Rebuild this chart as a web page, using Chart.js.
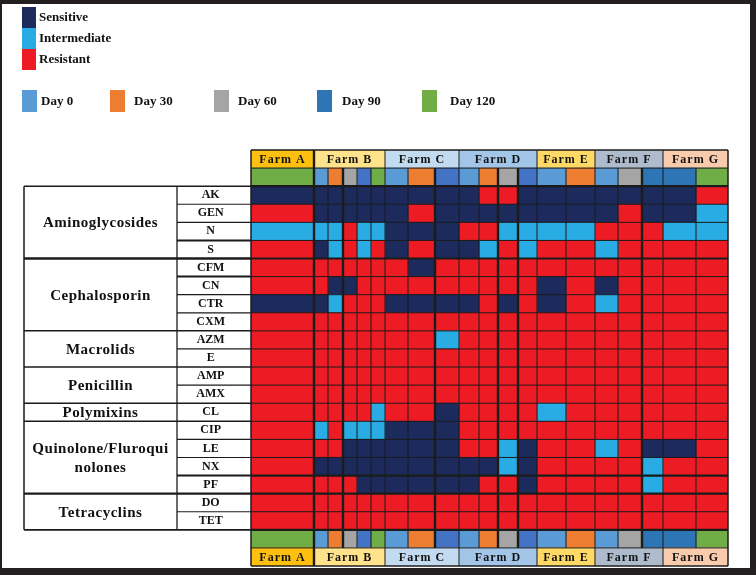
<!DOCTYPE html>
<html><head><meta charset="utf-8">
<script src="https://cdn.jsdelivr.net/npm/chart.js@4.4.1/dist/chart.umd.min.js"></script>
<style>
html,body{margin:0;padding:0;background:#fff;}
#wrap{position:relative;width:756px;height:575px;overflow:hidden;}
#frame{position:absolute;left:0;top:0;width:756px;height:575px;box-sizing:border-box;border-style:solid;border-color:#231f20;border-width:4px 6px 7px 2px;pointer-events:none;}
canvas{position:absolute;left:0;top:0;}
</style></head><body>
<div id="wrap"><canvas id="c" width="756" height="575"></canvas><div id="frame"></div></div>
<script>
// ---------- data ----------
const farms = ['Farm A','Farm B','Farm C','Farm D','Farm E','Farm F','Farm G'];
const farmDays = [[120],[0,30,60,90,120],[0,30,90],[0,30,60,90],[0,30],[0,60,90],[90,120]];
const groups = ['Aminoglycosides','Cephalosporin','Macrolids','Penicillin','Polymixins','Quinolone/Fluroqui\nnolones','Tetracyclins'];
const groupSizes = [4,4,2,2,1,4,2];
const drugs = ['AK','GEN','N','S','CFM','CN','CTR','CXM','AZM','E','AMP','AMX','CL','CIP','LE','NX','PF','DO','TET'];
const statusLabels = ['Sensitive','Intermediate','Resistant'];
const statusCodes = ['S','I','R'];
const dayValues = [0,30,60,90,120];
const dayLabels = ['Day 0','Day 30','Day 60','Day 90','Day 120'];
// results: one string per drug, one letter per sampling day (S / I / R)
const farmA = ['S','R','I','R','R','R','S','R','R','R','R','R','R','R','R','R','R','R','R'];
const farmB = ['SSSSS','SSSSS','IIRII','SIRIR','RRRRR','RSSRR','SIRRR','RRRRR','RRRRR','RRRRR','RRRRR','RRRRR','RRRRI','IRIII','RRSSS','SSSSS','RRRSS','RRRRR','RRRRR'];
const farmC = ['SSS','SRS','SSS','SRS','RSR','RRR','SSS','RRR','RRI','RRR','RRR','RRR','RRS','SSS','SSS','SSS','SSS','RRR','RRR'];
const farmD = ['SRRS','SSSS','RRII','SIRI','RRRR','RRRR','SRSR','RRRR','RRRR','RRRR','RRRR','RRRR','RRRR','RRRR','RRIS','SSIS','SRRS','RRRR','RRRR'];
const farmE = ['SS','SS','II','RR','RR','SR','SR','RR','RR','RR','RR','RR','IR','RR','RR','RR','RR','RR','RR'];
const farmF = ['SSS','SRS','RRR','IRR','RRR','SRR','IRR','RRR','RRR','RRR','RRR','RRR','RRR','RRR','IRS','RRI','RRI','RRR','RRR'];
const farmG = ['SR','SI','II','RR','RR','RR','RR','RR','RR','RR','RR','RR','RR','RR','SR','RR','RR','RR','RR'];
const farmResults = [farmA,farmB,farmC,farmD,farmE,farmF,farmG];

// ---------- layout / style ----------
const colWidths = [[63],[14,15,14,14,14],[23,27,24],[20,19,20,19],[29,29],[23,24,21],[33,32]];
const statusColor = {S:'#1d2a5c', I:'#29ace3', R:'#ed1c24'};
const dayColor = {0:'#5b9bd5',30:'#ed7d31',60:'#a5a5a5',90:'#2e75b6',120:'#70ad47'};
const day90Alt = '#4472c4';
const day90AltFarms = ['Farm B','Farm C','Farm D'];
const farmColor = ['#fdc010','#ffe38b','#c3dbf0','#a2c5e8','#ffd966','#aebbcc','#f8cbac'];
const thickEdges = [1,3,8,11,12,17];
const thickRowEdges = [2,6,18,19,21];
const LINE = '#1b1b1b';
const SERIF = '"Liberation Serif","Times New Roman",serif';

// ---------- build columns ----------
const columns = [];
let acc = 0;
farms.forEach((f, fi) => {
  farmDays[fi].forEach((d, di) => {
    const w = colWidths[fi][di];
    columns.push({farm: fi, day: d, di, start: acc, end: acc + w});
    acc += w;
  });
});
const totalW = acc;
const rowLabels = ['Farm','Day'].concat(drugs).concat(['Day ','Farm ']);
const nRows = rowLabels.length;

const datasets = columns.map(col => {
  const colors = rowLabels.map((r, ri) => {
    if (ri === 0 || ri === nRows - 1) return farmColor[col.farm];
    if (ri === 1 || ri === nRows - 2) {
      if (col.day === 90 && day90AltFarms.includes(farms[col.farm])) return day90Alt;
      return dayColor[col.day];
    }
    const code = farmResults[col.farm][ri - 2][col.di];
    return statusColor[code];
  });
  return {
    data: rowLabels.map(() => [col.start, col.end]),
    backgroundColor: colors,
    borderWidth: 0,
    grouped: false,
    barPercentage: 1,
    categoryPercentage: 1
  };
});

function rowEdge(y, i) {
  if (i <= 0) return y.top;
  if (i >= nRows) return y.bottom;
  return (y.getPixelForValue(i - 1) + y.getPixelForValue(i)) / 2;
}
function line(ctx, x1, y1, x2, y2, w) {
  ctx.beginPath(); ctx.lineWidth = w; ctx.strokeStyle = LINE;
  ctx.moveTo(x1, y1); ctx.lineTo(x2, y2); ctx.stroke();
}

const tablePlugin = {
  id: 'tablePlugin',
  afterDatasetsDraw(chart) {
    const ctx = chart.ctx, x = chart.scales.x, y = chart.scales.y;
    ctx.save();
    // horizontal grid lines
    for (let i = 0; i <= nRows; i++) {
      const py = rowEdge(y, i);
      let w = thickRowEdges.includes(i) ? 2.2 : 1;
      if (i === 0 || i === nRows) w = 1.5;
      line(ctx, x.left, py, x.right, py, w);
    }
    // vertical grid lines
    const farmStarts = new Set();
    columns.forEach((c, ci) => { if (ci === 0 || columns[ci-1].farm !== c.farm) farmStarts.add(ci); });
    for (let e = 0; e <= columns.length; e++) {
      const val = e < columns.length ? columns[e].start : totalW;
      const px = x.getPixelForValue(val);
      const full = e === 0 || e === columns.length || farmStarts.has(e);
      let w = thickEdges.includes(e) ? 2.4 : 1;
      if (e === 0 || e === columns.length) w = 1.5;
      const y1 = full ? y.top : rowEdge(y, 1);
      const y2 = full ? y.bottom : rowEdge(y, nRows - 1);
      line(ctx, px, y1, px, y2, w);
    }
    // left table
    const tLeft = 24, tDiv = y.left;
    const top = rowEdge(y, 2), bot = rowEdge(y, nRows - 2);
    line(ctx, tLeft, top, tLeft, bot, 1.5);
    line(ctx, tDiv, top, tDiv, bot, 1.3);
    line(ctx, tLeft, top, x.left, top, 1.5);
    line(ctx, tLeft, bot, x.left, bot, 1.8);
    const groupEnds = [];
    let s = 0; groupSizes.forEach(n => { s += n; groupEnds.push(s); });
    for (let d = 1; d < drugs.length; d++) {
      const py = rowEdge(y, d + 2);
      if (groupEnds.includes(d)) {
        const w = (d === 4 || d === 17) ? 2.4 : 1.5;
        line(ctx, tLeft, py, x.left, py, w);
      } else {
        const w = (d === 3 || d === 5 || d === 16) ? 2 : 1.2;
        line(ctx, tDiv, py, x.left, py, w);
      }
    }
    // group labels
    ctx.fillStyle = '#111';
    ctx.font = 'bold 15px ' + SERIF;
    ctx.textAlign = 'center';
    ctx.textBaseline = 'middle';
    try { ctx.letterSpacing = '0.5px'; } catch (e) {}
    let start = 0;
    groups.forEach((name, gi) => {
      const end = start + groupSizes[gi];
      const cy = (rowEdge(y, start + 2) + rowEdge(y, end + 2)) / 2;
      const cx = (tLeft + tDiv) / 2;
      const lines = name.split('\n');
      const lh = 19;
      lines.forEach((ln, li) => {
        ctx.fillText(ln, cx, cy + (li - (lines.length - 1) / 2) * lh + 1);
      });
      start = end;
    });
    // farm names
    ctx.font = 'bold 12px ' + SERIF;
    try { ctx.letterSpacing = '1px'; } catch (e) {}
    farms.forEach((f, fi) => {
      const cols = columns.filter(c => c.farm === fi);
      const cx = x.getPixelForValue((cols[0].start + cols[cols.length-1].end) / 2);
      [0, nRows - 1].forEach(r => {
        ctx.fillText(f, cx, y.getPixelForValue(r) + 1);
      });
    });
    try { ctx.letterSpacing = '0px'; } catch (e) {}
    ctx.restore();
  },
  afterDraw(chart) {
    const ctx = chart.ctx;
    ctx.save();
    ctx.font = 'bold 13px ' + SERIF;
    ctx.textAlign = 'left';
    ctx.textBaseline = 'middle';
    statusLabels.forEach((lab, i) => {
      ctx.fillStyle = statusColor[statusCodes[i]];
      ctx.fillRect(22, 7 + i * 21, 14, 21);
      ctx.fillStyle = '#111';
      ctx.fillText(lab, 39, 18 + i * 21);
    });
    const swX = [22, 110, 214, 317, 422];
    const txX = [41, 134, 238, 342, 450];
    dayLabels.forEach((lab, i) => {
      ctx.fillStyle = dayColor[dayValues[i]];
      ctx.fillRect(swX[i], 90, 15, 22);
      ctx.fillStyle = '#111';
      ctx.fillText(lab, txX[i], 102);
    });
    ctx.restore();
  }
};

new Chart(document.getElementById('c'), {
  type: 'bar',
  data: { labels: rowLabels, datasets },
  options: {
    indexAxis: 'y',
    responsive: false,
    animation: false,
    events: [],
    layout: { padding: { left: 177, right: 28, top: 150, bottom: 9 } },
    plugins: { legend: { display: false }, tooltip: { enabled: false } },
    scales: {
      x: { type: 'linear', min: 0, max: totalW, display: false },
      y: {
        type: 'category',
        grid: { display: false, drawTicks: false },
        border: { display: false },
        afterFit(scale) { scale.width = 74; scale.paddingTop = 0; scale.paddingBottom = 0; },
        ticks: {
          autoSkip: false,
          crossAlign: 'center',
          padding: 26,
          color: '#111',
          font: { family: SERIF, size: 12, weight: 'bold' },
          callback: (v, i) => (i >= 2 && i < 2 + drugs.length) ? drugs[i - 2] : ''
        }
      }
    }
  },
  plugins: [tablePlugin]
});
</script>
</body></html>
